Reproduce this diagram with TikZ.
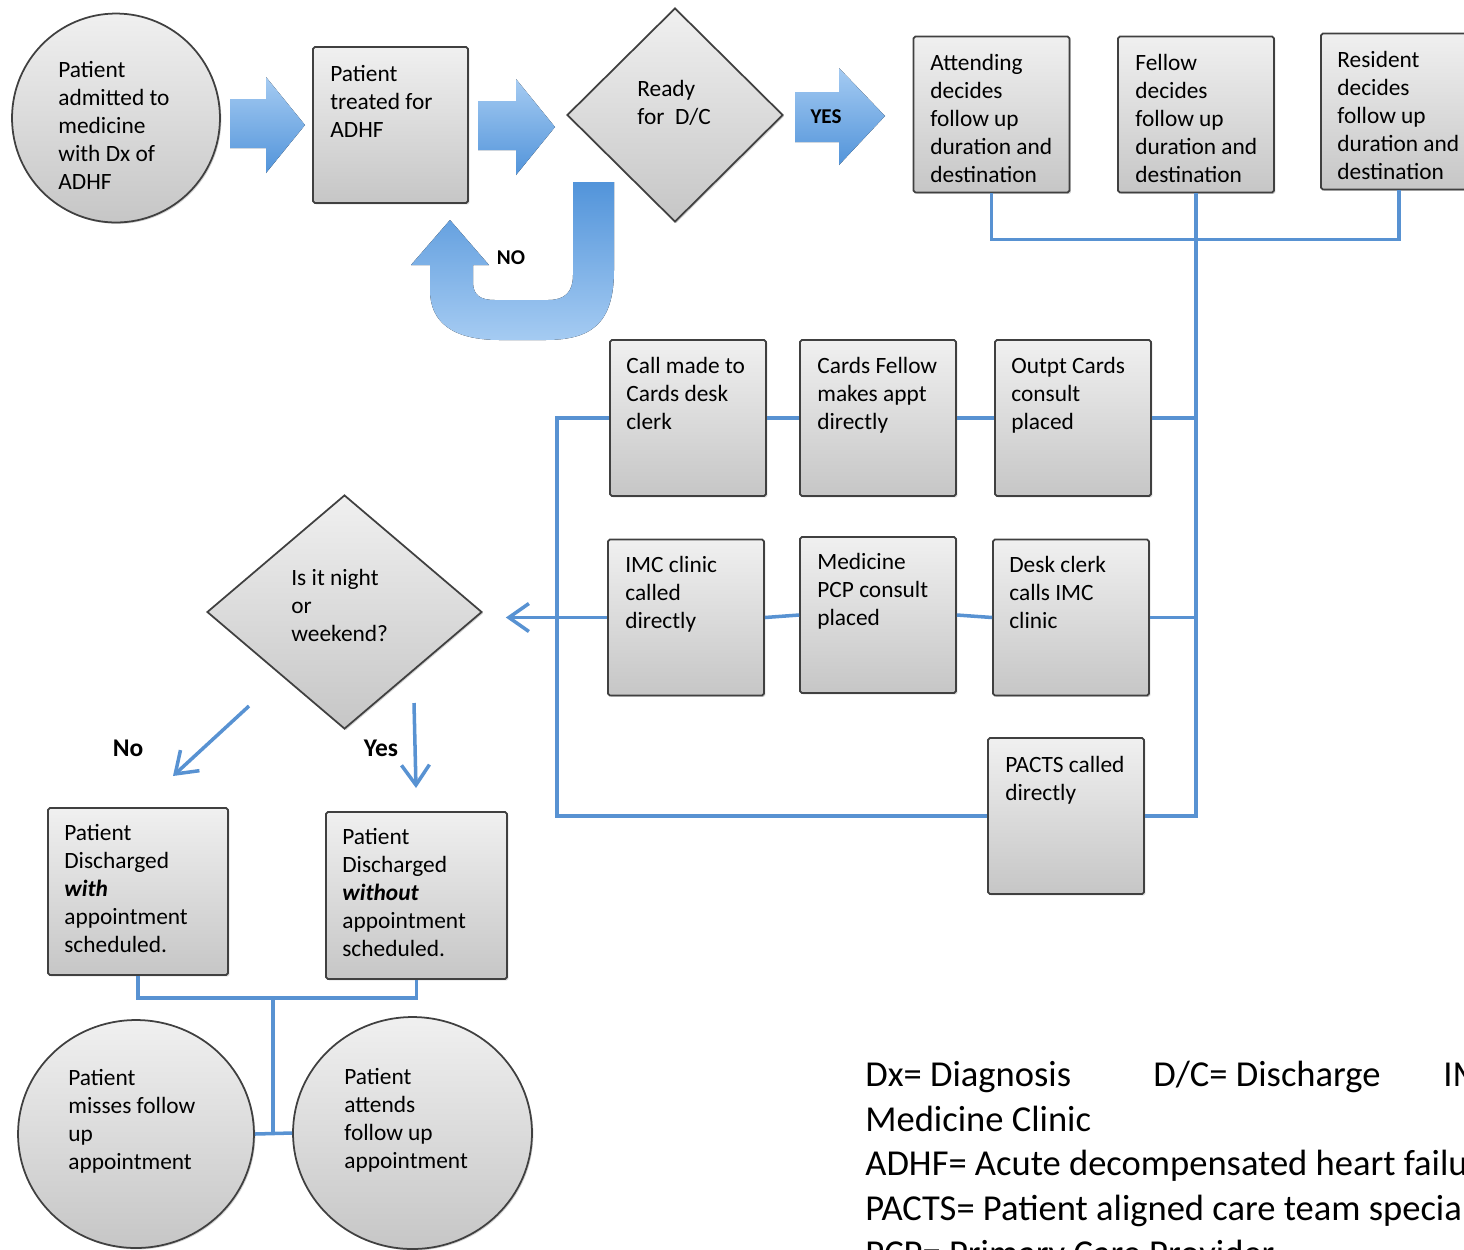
\documentclass[tikz,border=0pt]{standalone}
\usepackage{fontspec}
\setmainfont{Carlito}
\usetikzlibrary{shapes.geometric,shadows,arrows.meta,calc}

\definecolor{linkblue}{RGB}{88,146,210}
\definecolor{arrowlight}{RGB}{165,203,242}
\definecolor{arrowdark}{RGB}{82,148,218}
\definecolor{boxtop}{RGB}{240,240,240}
\definecolor{boxbottom}{RGB}{198,198,198}

\tikzset{
  procbox/.style={draw=black!75, line width=1pt, rounded corners=1pt,
    top color=boxtop, bottom color=boxbottom,
    drop shadow={shadow xshift=0.8pt, shadow yshift=-0.8pt, opacity=0.35},
    minimum width=3.12cm, minimum height=3.12cm, inner sep=0pt},
  endcircle/.style={procbox, ellipse, rounded corners=0pt},
  decision/.style={procbox, diamond, rounded corners=0pt},
  boxtext/.style={anchor=north west, align=left, inner sep=0pt,
    font=\fontsize{13.3}{15.9}\selectfont},
  link/.style={draw=linkblue, line width=2pt},
  flowarrow/.style={link, -{Straight Barb[length=0.4cm, width=0.56cm]}},
  bigarrow/.style={top color=arrowlight, bottom color=arrowdark, draw=none},
  tag/.style={inner sep=0pt, font=\fontsize{12}{14}\selectfont\bfseries},
  branch/.style={inner sep=0pt, font=\fontsize{14.5}{17}\selectfont\bfseries},
  legend/.style={anchor=base west, inner sep=0pt, font=\fontsize{20.8}{25.4}\selectfont}
}

\begin{document}
\begin{tikzpicture}[x=0.02cm, y=-0.02cm]
\useasboundingbox (0,0) rectangle (1464,1249);
\clip (0,0) rectangle (1464,1249);

%admission
\node[endcircle, minimum width=4.16cm, minimum height=4.18cm] (admit) at (116,118) {};
\node[boxtext] (admit-t) at (58,61) {Patient\\admitted to\\medicine\\with Dx of\\ADHF};
\fill[bigarrow] (230,99) -- (266,99) -- (266,77) -- (305,125) -- (266,173) -- (266,148) -- (230,148) -- cycle;

%treatment
\node[procbox, minimum width=3.1cm] (treat) at (390.5,125) {};
\node[boxtext] (treat-t) at (330,65) {Patient\\treated for\\ADHF};
\fill[bigarrow] (478,101) -- (516,101) -- (516,79) -- (555,127) -- (516,175) -- (516,150) -- (478,150) -- cycle;

%ready for discharge
\node[decision, minimum width=4.32cm, minimum height=4.28cm] (ready) at (675,115) {};
\node[boxtext] (ready-t) at (637,80) {Ready\\for\ \ D/C};

%yes
\fill[bigarrow] (795,92) -- (839,92) -- (839,68) -- (885,116) -- (839,165) -- (839,142) -- (795,142) -- cycle;
\node[tag] (yes) at (826,117) {YES};

%no loop
\fill[bigarrow, top color=arrowdark, bottom color=arrowlight] (573,182) -- (614,182) -- (614,270)
  .. controls (614,325) and (590,340) .. (545,340) -- (500,340)
  .. controls (452,340) and (430,322) .. (430,290) -- (430,265) -- (411,265) -- (450,220)
  -- (489,265) -- (473,265) -- (473,282) .. controls (473,295) and (480,300) .. (495,300)
  -- (548,300) .. controls (565,300) and (573,292) .. (573,275) -- cycle;
\node[tag] (no) at (511,258) {NO};

%who decides follow up
\node[procbox] (att) at (991.5,114.5) {};
\node[boxtext] (att-t) at (930,54) {Attending\\decides\\follow up\\duration and\\destination};
\node[procbox] (fel) at (1196,114.5) {};
\node[boxtext] (fel-t) at (1135,54) {Fellow\\decides\\follow up\\duration and\\destination};
\node[procbox] (res) at (1399,111.5) {};
\node[boxtext] (res-t) at (1337,51) {Resident\\decides\\follow up\\duration and\\destination};

%cards row
\node[procbox] (call) at (688,418) {};
\node[boxtext] (call-t) at (626,357) {Call made to\\Cards desk\\clerk};
\node[procbox] (cfel) at (878,418) {};
\node[boxtext] (cfel-t) at (817,357) {Cards Fellow\\makes appt\\directly};
\node[procbox] (outpt) at (1073,418) {};
\node[boxtext] (outpt-t) at (1011,357) {Outpt Cards\\consult\\placed};

%imc row
\node[procbox] (imc) at (686,617.5) {};
\node[boxtext] (imc-t) at (625,556) {IMC clinic\\called\\directly};
\node[procbox] (med) at (878,615) {};
\node[boxtext] (med-t) at (817,553) {Medicine\\PCP consult\\placed};
\node[procbox] (desk) at (1071,617.5) {};
\node[boxtext] (desk-t) at (1009,556) {Desk clerk\\calls IMC\\clinic};

%pacts
\node[procbox] (pacts) at (1066,816) {};
\node[boxtext] (pacts-t) at (1005,756) {PACTS called\\directly};

%night or weekend
\node[decision, minimum width=5.5cm, minimum height=4.68cm] (night) at (344.5,612) {};
\node[boxtext] (night-t) at (291,569) {Is it night\\or\\weekend?};

%discharge
\node[procbox, minimum width=3.6cm, minimum height=3.34cm] (dc-with) at (138,891.5) {};
\node[boxtext] (dc-with-t) at (64,824) {Patient\\Discharged\\\textbf{\textit{with}}\\appointment\\scheduled.};
\node[procbox, minimum width=3.62cm, minimum height=3.34cm] (dc-without) at (416.5,895.5) {};
\node[boxtext] (dc-without-t) at (342,828) {Patient\\Discharged\\\textbf{\textit{without}}\\appointment\\scheduled.};

%follow up
\node[endcircle, minimum width=4.72cm, minimum height=4.56cm] (miss) at (136,1134) {};
\node[boxtext] (miss-t) at (68,1069) {Patient\\misses follow\\up\\appointment};
\node[endcircle, minimum width=4.78cm, minimum height=4.64cm] (attend) at (412.5,1133) {};
\node[boxtext] (attend-t) at (344,1068) {Patient\\attends\\follow up\\appointment};

%connectors
\coordinate (loop) at (557,418);
\coordinate (no-from) at (249,706);
\coordinate (no-to) at (173,776);
\coordinate (yes-from) at (414,703);
\coordinate (yes-to) at (416,788);
\coordinate (split) at (273,997);

\draw[link] (att.south) -- ++(0,46) -| (res.south);
\draw[link] (fel.south) |- (pacts.east);
\draw[link] (call.east) -- (cfel.west);
\draw[link] (cfel.east) -- (outpt.west);
\draw[link] (outpt.east) -- (outpt.east -| fel.south);
\draw[link] (imc.east) -- (med.west);
\draw[link] (med.east) -- (desk.west);
\draw[link] (desk.east) -- (desk.east -| fel.south);
\draw[link] (pacts.west) -| (loop) -- (call.west);
\draw[flowarrow, shorten >=0.46cm] (imc.west) -- (imc.west -| night.east);

\draw[flowarrow] (no-from) -- (no-to);
\node[branch] (no-lbl) at (128,748) {No};
\draw[flowarrow] (yes-from) -- (yes-to);
\node[branch] (yes-lbl) at (381,748) {Yes};

\draw[link] (dc-with.south) -- ++(0,22) -| (dc-without.south);
\draw[link] (split) -- (split |- miss.east);
\draw[link] (miss.east) -- (attend.west);

%legend
\node[legend] (leg-dx) at (865,1086) {Dx= Diagnosis};
\node[legend] (leg-dc) at (1153,1086) {D/C= Discharge};
\node[legend] (leg-im) at (1443,1086) {IM};
\node[legend] (leg-mc) at (865,1131) {Medicine Clinic};
\node[legend] (leg-adhf) at (865,1175) {ADHF= Acute decompensated heart failu};
\node[legend] (leg-pacts) at (865,1220) {PACTS= Patient aligned care team specia};
\node[legend] (leg-pcp) at (865,1265) {PCP= Primary Care Provider};
\end{tikzpicture}
\end{document}
